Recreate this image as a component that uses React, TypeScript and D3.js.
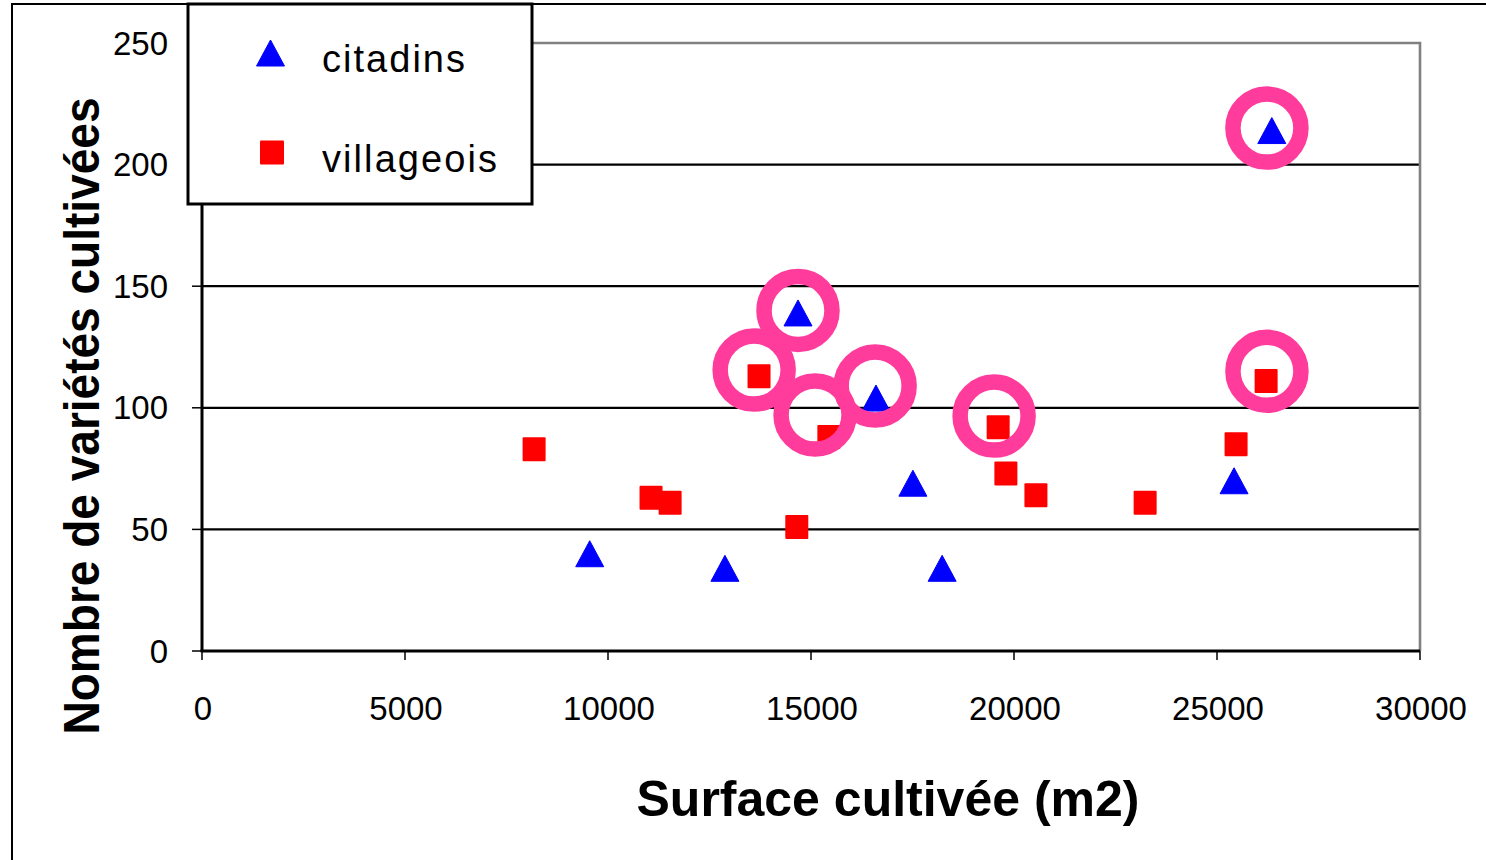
import * as d3 from "d3";

const X_TICKS = [0, 5000, 10000, 15000, 20000, 25000, 30000];
const Y_TICKS = [0, 50, 100, 150, 200, 250];

// citadins (triangles)
const citadinsX = [9550, 12880, 14680, 16600, 17510, 18230, 25420, 26350];
const citadinsY = [40, 34, 139, 104, 69, 34, 70, 214];

// villageois (squares)
const villageoisX = [8180, 11060, 11530, 13720, 14650, 15440, 19610, 19800, 20540, 23230, 25470, 26210];
const villageoisY = [83, 63, 61, 113, 51, 88, 92, 73, 64, 61, 85, 111];

// pink circles highlighting points
const highlightX = [26230, 14680, 13600, 15100, 16580, 19510, 26230];
const highlightY = [215, 140, 115.5, 97, 109, 96.6, 115];

const FONT = "'Liberation Sans', Arial, Helvetica, sans-serif";
const W = 1486;
const H = 860;

export default function App() {
  const x = d3.scaleLinear().domain([0, 30000]).range([202, 1420]);
  const y = d3.scaleLinear().domain([0, 250]).range([651, 43]);

  const tri = d3.symbol().type(d3.symbolTriangle).size(360);

  const triangle = (cx: number, cy: number) => {
    const w = 28, h = 26;
    return `M${cx},${cy - h / 2}L${cx + w / 2},${cy + h / 2}L${cx - w / 2},${cy + h / 2}Z`;
  };

  return (
    <svg
      width={W}
      height={H}
      style={{ position: "absolute", left: 0, top: 0, background: "#fff" }}
      fontFamily={FONT}
    >
      <rect x={0} y={0} width={W} height={H} fill="#fff" />
      {/* outer frame */}
      <rect x={12} y={4} width={W + 20} height={H + 20} fill="none" stroke="#000" strokeWidth={2} />

      {/* grid lines */}
      {Y_TICKS.filter((t) => t > 0 && t < 250).map((t) => (
        <line key={t} x1={x(0)} x2={x(30000)} y1={y(t)} y2={y(t)} stroke="#000" strokeWidth={2.2} />
      ))}
      {/* plot border (top, right) */}
      <path
        d={`M${x(0)},${y(250)}H${x(30000)}V${y(0)}`}
        fill="none"
        stroke="#808080"
        strokeWidth={2.6}
      />

      {/* y axis */}
      <line x1={x(0)} x2={x(0)} y1={y(250)} y2={y(0)} stroke="#000" strokeWidth={3} />
      {Y_TICKS.map((t) => (
        <g key={t}>
          <line x1={x(0) - 10} x2={x(0)} y1={y(t)} y2={y(t)} stroke="#000" strokeWidth={1.5} />
          <text x={168} y={y(t) + 11.5} textAnchor="end" fontSize={33}>
            {t}
          </text>
        </g>
      ))}

      {/* x axis */}
      <line x1={x(0) - 1.5} x2={x(30000)} y1={y(0)} y2={y(0)} stroke="#000" strokeWidth={3.2} />
      {X_TICKS.map((t) => (
        <g key={t}>
          <line x1={x(t)} x2={x(t)} y1={y(0)} y2={y(0) + 9} stroke="#000" strokeWidth={1.5} />
          <text x={x(t) + 1} y={y(0) + 69} textAnchor="middle" fontSize={33}>
            {t}
          </text>
        </g>
      ))}

      {/* titles */}
      <text
        x={888}
        y={816}
        textAnchor="middle"
        fontSize={50}
        fontWeight="bold"
        textLength={503}
        lengthAdjust="spacingAndGlyphs"
      >
        Surface cultivée (m2)
      </text>
      <text
        transform="translate(99,416) rotate(-90)"
        textAnchor="middle"
        fontSize={50}
        fontWeight="bold"
        textLength={637}
        lengthAdjust="spacingAndGlyphs"
      >
        Nombre de variétés cultivées
      </text>

      {/* villageois */}
      {villageoisX.map((v, i) => (
        <rect
          key={i}
          x={x(v) - 11.5}
          y={y(villageoisY[i]) - 12}
          width={23}
          height={24}
          rx={1}
          fill="#ff0000"
        />
      ))}
      {/* citadins */}
      {citadinsX.map((v, i) => (
        <path key={i} d={triangle(x(v), y(citadinsY[i]))} fill="#0000ff" strokeLinejoin="round" stroke="#0000ff" strokeWidth={1} />
      ))}

      {/* highlight rings */}
      {highlightX.map((v, i) => (
        <circle key={i} cx={x(v)} cy={y(highlightY[i])} r={34} fill="none" stroke="#ff3c9c" strokeWidth={15.5} />
      ))}

      {/* legend */}
      <rect x={188} y={4} width={344} height={200} fill="#fff" stroke="#000" strokeWidth={3} />
      <path d={triangle(270.5, 53)} fill="#0000ff" stroke="#0000ff" strokeWidth={1} strokeLinejoin="round" />
      <rect x={260} y={140.5} width={24} height={24} rx={1} fill="#ff0000" />
      <text x={322} y={72} fontSize={38} textLength={143} lengthAdjust="spacing">
        citadins
      </text>
      <text x={322} y={172} fontSize={38} textLength={175} lengthAdjust="spacing">
        villageois
      </text>
    </svg>
  );
}
